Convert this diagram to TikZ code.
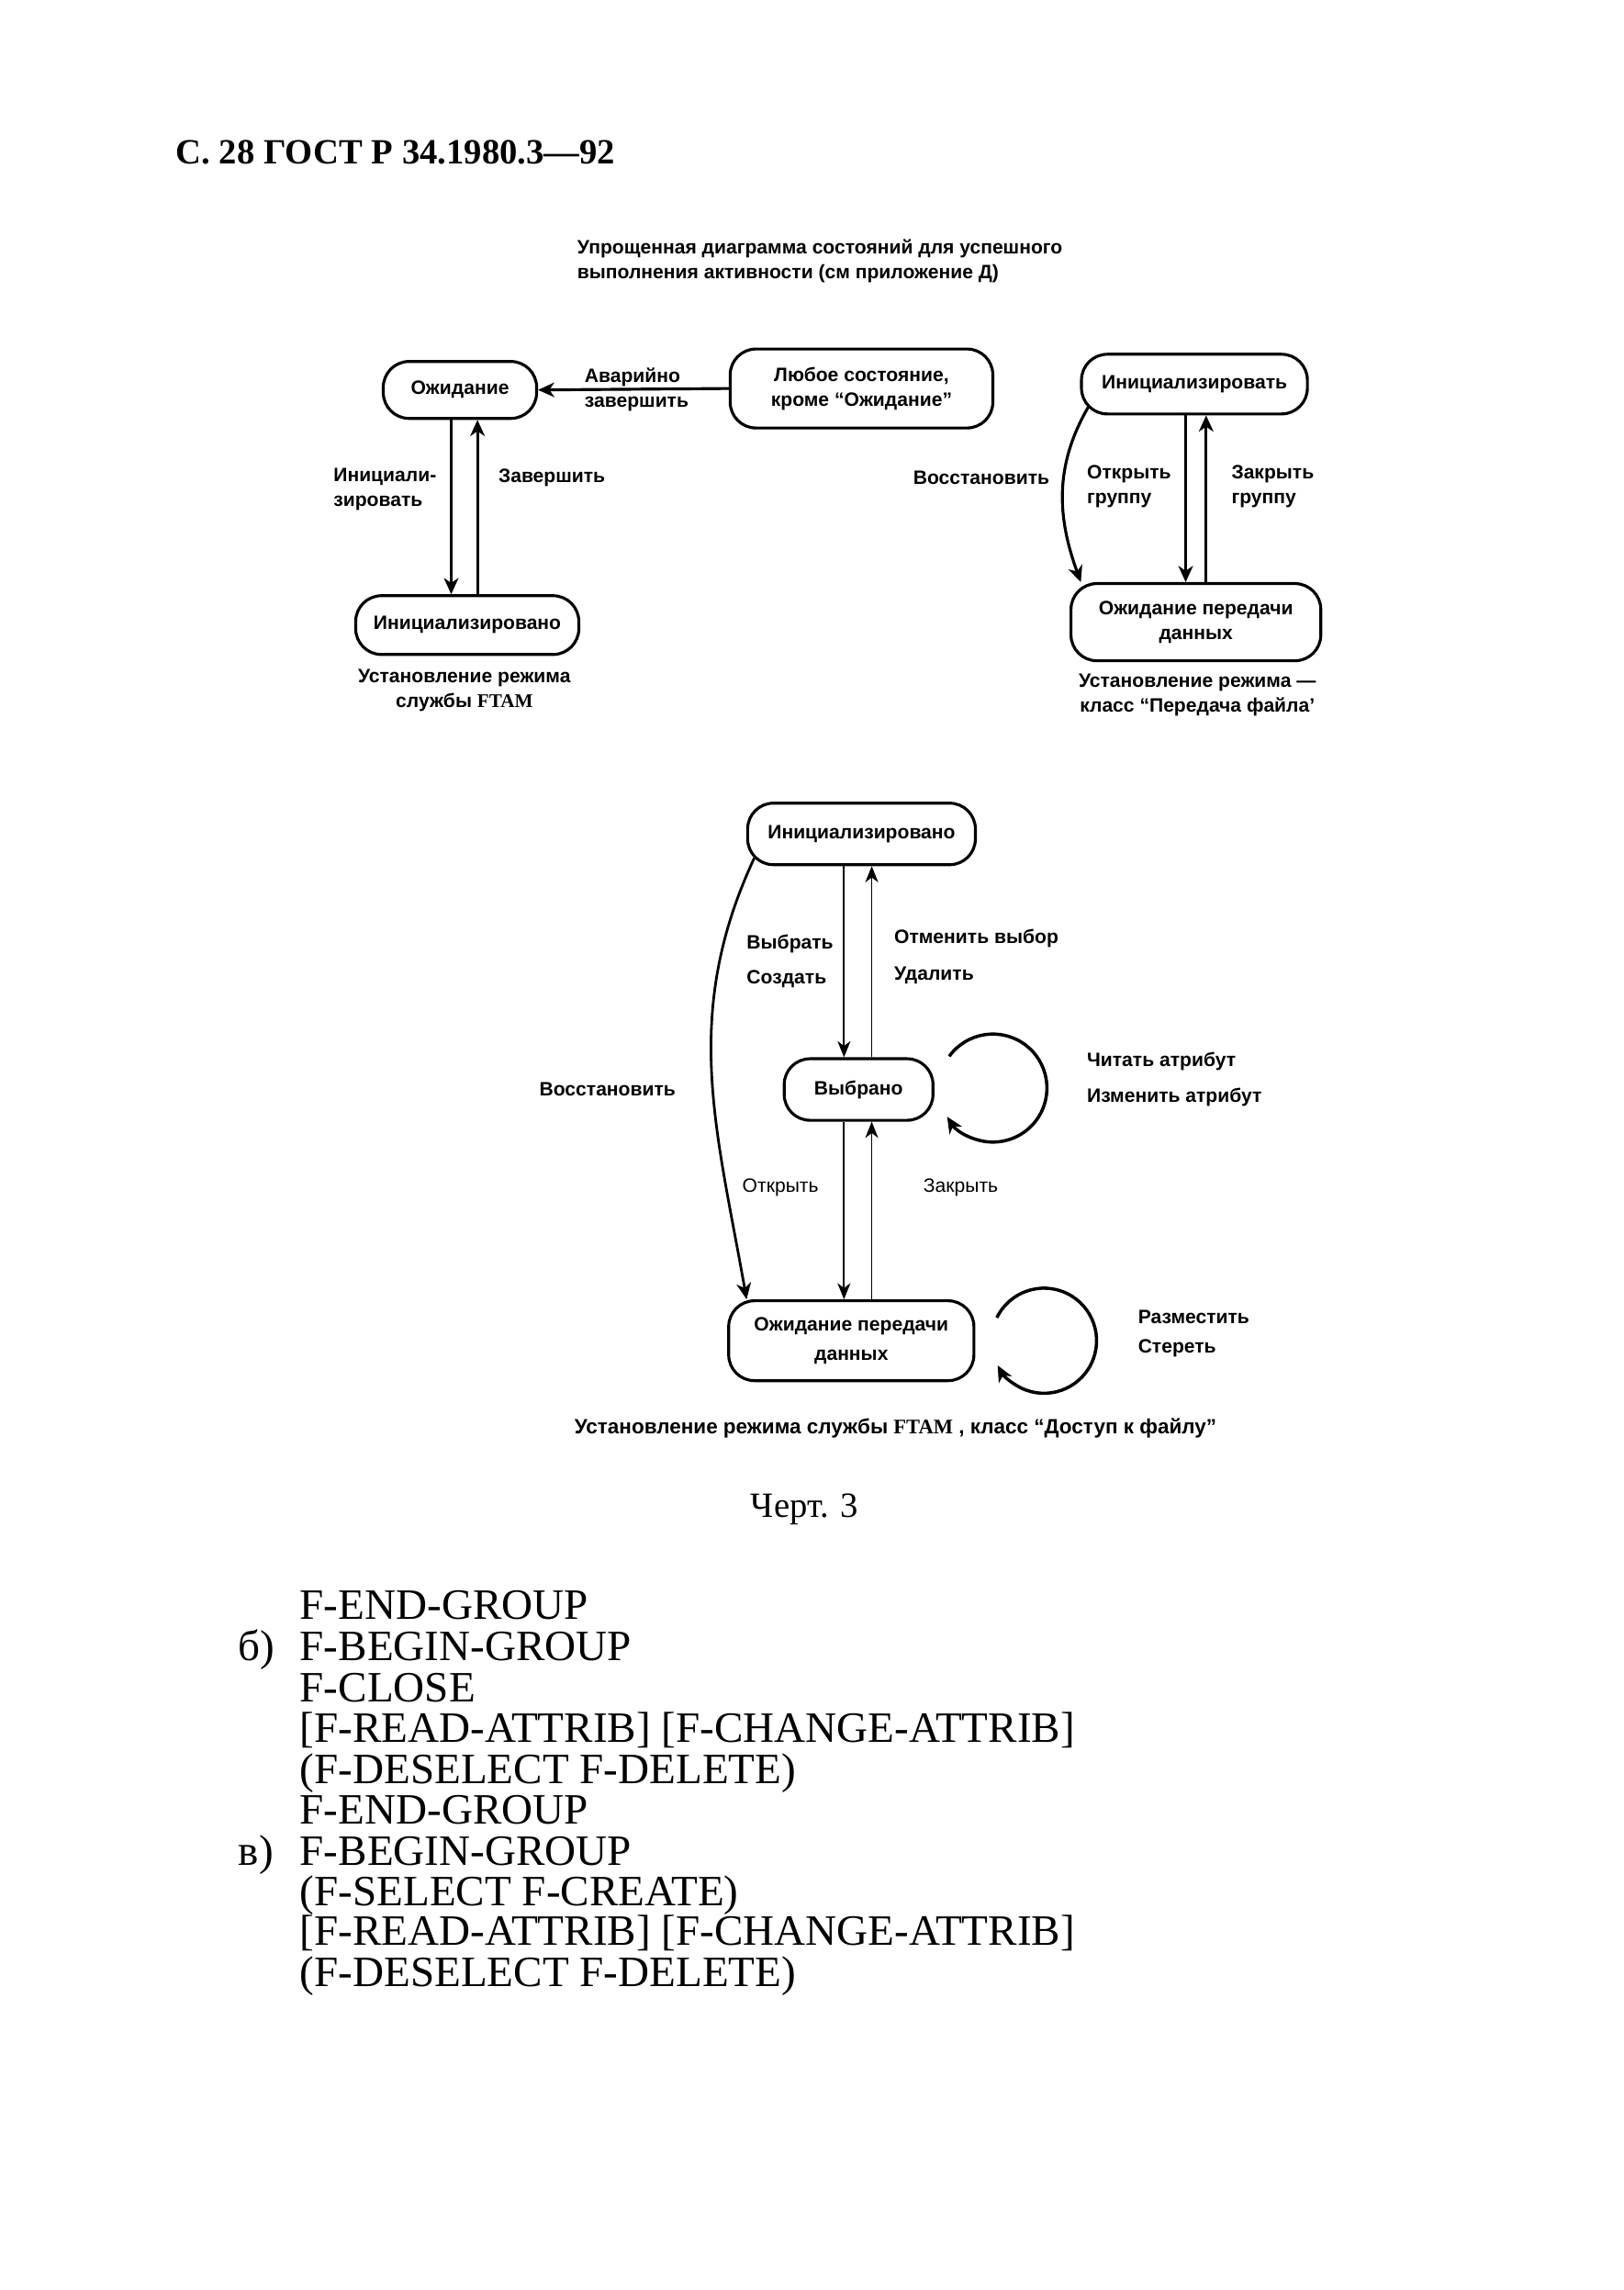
\documentclass[tikz,border=0pt]{standalone}
\usepackage{fontspec}
\setmainfont{Liberation Serif}
\setsansfont{Liberation Sans}
\usetikzlibrary{arrows.meta}
\tikzstyle{state}=[draw, line width=0.9pt, rounded corners=8pt, inner sep=0pt, align=center, font=\sffamily\bfseries\fontsize{6}{7.7}\selectfont]
\tikzstyle{edge} = [draw, line width=0.9pt, -{Stealth[length=5pt,width=4.5pt,inset=1.5pt]}]
\tikzstyle{thinedge} = [draw, line width=0.5pt, -{Stealth[length=5pt,width=4pt,inset=1.5pt]}]
\tikzstyle{note} = [anchor=west, inner sep=0pt, align=left, font=\sffamily\bfseries\fontsize{6}{7.7}\selectfont]
\tikzstyle{caption} = [inner sep=0pt, align=center, font=\sffamily\bfseries\fontsize{6}{7.7}\selectfont]
\tikzstyle{code} = [anchor=base west, inner sep=0pt, font=\fontsize{13.4}{13}\selectfont]

\begin{document}
\begin{tikzpicture}[x=0.0159cm, y=-0.0159cm]
    \path[use as bounding box, fill=white] (0,0) rectangle (1112,1568);

    \node[anchor=base west, inner sep=0pt, font=\bfseries\fontsize{11}{13}\selectfont] (head) at (120,112) {С. 28 ГОСТ Р 34.1980.3—92};
    \node[note] (title) at (395,179) {Упрощенная диаграмма состояний для успешного\\выполнения активности (см приложение Д)};

    % states
    \foreach \pos/\name/\w/\h/\txt in {
                            {(315,267)/ozh/1.67/0.62/Ожидание},
                            {(590,266)/any/2.86/0.86/Любое состояние,\\кроме ``Ожидание''},
                            {(320,428)/init/2.43/0.64/Инициализировано},
                            {(818,263)/initz/2.46/0.65/Инициализировать},
                            {(819,426)/wait/2.72/0.84/Ожидание передачи\\данных},
                            {(590,571)/inited/2.48/0.67/Инициализировано},
                            {(588,746)/sel/1.62/0.67/Выбрано},
                            {(583,918)/xfer/2.67/0.87/Ожидание передачи\\[1.3pt]данных}}
        \node[state, minimum width=\w cm, minimum height=\h cm] (\name) at \pos {\txt};

    % top left
    \draw[edge] (any.west) -- (ozh.east);
    \node[note] (abort) at (400,267) {Аварийно\\завершить};
    \draw[edge] (ozh.south -| 309,0) -- (init.north -| 309,0);
    \draw[edge] (init.north -| 327,0) -- (ozh.south -| 327,0);
    \node[note] (initlbl) at (228,335) {Инициали-\\зировать};
    \node[note] (finlbl) at (341,327) {Завершить};
    \node[caption] (cap1) at (318,473) {Установление режима\\службы {\rmfamily FTAM}};

    % top right
    \draw[edge] (initz.south -| 812,0) -- (wait.north -| 812,0);
    \draw[edge] (wait.north -| 826,0) -- (initz.south -| 826,0);
    \draw[edge] ([xshift=2.5pt,yshift=2.5pt]initz.south west) to[out=240,in=110] ([xshift=3.5pt]wait.north west);
    \node[note] (restore1) at (625,327) {Восстановить};
    \node[note] (open1) at (744,333) {Открыть\\группу};
    \node[note] (close1) at (843,333) {Закрыть\\группу};
    \node[caption] (cap2) at (820,476) {Установление режима —\\класс ``Передача файла'};

    % bottom
    \draw[thinedge] (inited.south -| 578,0) -- (sel.north -| 578,0);
    \draw[thinedge] (sel.north -| 597,0) -- (inited.south -| 597,0);
    \draw[thinedge] (sel.south -| 578,0) -- (xfer.north -| 578,0);
    \draw[thinedge] (xfer.north -| 597,0) -- (sel.south -| 597,0);
    \draw[edge, line width=0.8pt] ([xshift=2.5pt,yshift=2.5pt]inited.south west) to[out=245,in=100] ([xshift=6pt]xfer.north west);
    \node[note] (selcr) at (511,658) {Выбрать\\[3.1pt]Создать};
    \node[note] (desdel) at (612,655) {Отменить выбор\\[3.5pt]Удалить};
    \node[note, font=\sffamily\fontsize{6}{7.7}\selectfont] (open2) at (508,813) {Открыть};
    \node[note, font=\sffamily\fontsize{6}{7.7}\selectfont] (close2) at (632,813) {Закрыть};
    \node[note] (restore2) at (369,746) {Восстановить};

    % self loops
    \coordinate (selloop) at (680,745);
    \draw[edge, line width=1pt] ([shift={(144:0.588cm)}]selloop) arc[start angle=144, end angle=-148, radius=0.588cm];
    \node[note] (attr) at (744,739) {Читать атрибут\\[3.5pt]Изменить атрибут};
    \coordinate (xferloop) at (715,918);
    \draw[edge, line width=1pt] ([shift={(154:0.572cm)}]xferloop) arc[start angle=154, end angle=-152, radius=0.572cm];
    \node[note] (place) at (779,913) {Разместить\\[1.3pt]Стереть};
    \node[note, font=\sffamily\bfseries\fontsize{6.4}{7.7}\selectfont] (cap3) at (393,978) {Установление режима службы {\rmfamily FTAM} , класс ``Доступ к файлу''};

    \node[anchor=base, inner sep=0pt, font=\fontsize{11}{13}\selectfont] (fig) at (551,1039) {Черт. 3};

    % message list
    \node[code] (b) at (163,1137) {б)};
    \node[code] (v) at (163,1277) {в)};
    \foreach \y/\txt [count=\i] in {1100/F-END-GROUP, 1128/F-BEGIN-GROUP, 1156/F-CLOSE,
                                    1184/{[F-READ-ATTRIB] [F-CHANGE-ATTRIB]}, 1212/(F-DESELECT F-DELETE),
                                    1240/F-END-GROUP, 1268/F-BEGIN-GROUP, 1296/(F-SELECT F-CREATE),
                                    1323/{[F-READ-ATTRIB] [F-CHANGE-ATTRIB]}, 1351/(F-DESELECT F-DELETE)}
        \node[code] (line\i) at (205,\y+9) {\txt};

\end{tikzpicture}
\end{document}
